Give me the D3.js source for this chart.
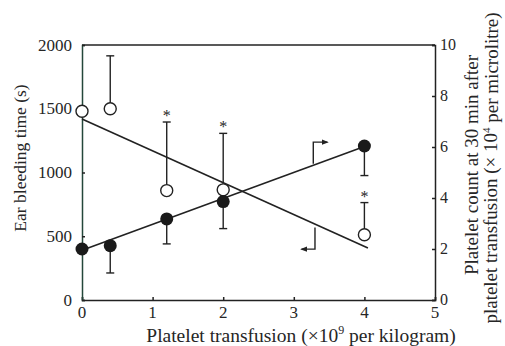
<!DOCTYPE html>
<html>
<head>
<meta charset="utf-8">
<script src="https://cdn.jsdelivr.net/npm/d3@7"></script>
<style>
  body { margin: 0; background: #fff; }
  svg text { font-family: "Liberation Serif", "DejaVu Serif", serif; fill: #262626; }
</style>
</head>
<body>
<script>
// transfusion doses (x 10^9 per kg)
var doses = [0, 0.4, 1.2, 2, 4];
// ear bleeding time (s), open circles, error bars go up
var bleeding = [1480, 1500, 858, 864, 512];
var bleedingErr = [0, 415, 538, 443, 252];
// platelet count (x 10^4 per microlitre), filled circles, error bars go down
var platelets = [2.0, 2.13, 3.18, 3.86, 6.04];
var plateletErr = [0, 1.07, 0.98, 1.06, 1.16];
// which doses get a significance star
var starred = [1.2, 2, 4];
// fitted lines, [dose, value]
var bleedingFit = [[0, 1420], [4.05, 408]];
var plateletFit = [[0, 1.95], [4, 6.02]];
// axis ticks
var xTicks = [0, 1, 2, 3, 4, 5];
var leftTicks = [0, 500, 1000, 1500, 2000];
var rightTicks = [0, 2, 4, 6, 8, 10];

var width = 505, height = 346;
var x = d3.scaleLinear().domain([0, 5]).range([82, 435]);
var yL = d3.scaleLinear().domain([0, 2000]).range([300, 45]);
var yR = d3.scaleLinear().domain([0, 10]).range([300, 45]);

var svg = d3.select("body").append("svg")
  .attr("width", width)
  .attr("height", height);

var ink = "#222";

// frame
svg.append("line")
  .attr("x1", x(0)).attr("x2", x(5)).attr("y1", yL(2000)).attr("y2", yL(2000))
  .attr("stroke", ink).attr("stroke-width", 1.5);

var xAxis = svg.append("g").attr("transform", "translate(0," + yL(0) + ")")
  .call(d3.axisTop(x).tickValues(xTicks).tickSize(3).tickFormat(""));
var lAxis = svg.append("g").attr("transform", "translate(" + x(0) + ",0)")
  .call(d3.axisRight(yL).tickValues(leftTicks).tickSize(3).tickFormat(""));
var rAxis = svg.append("g").attr("transform", "translate(" + x(5) + ",0)")
  .call(d3.axisLeft(yR).tickValues(rightTicks).tickSize(3).tickFormat(""));

[xAxis, lAxis, rAxis].forEach(function(g) {
  g.selectAll("path").attr("stroke", ink).attr("stroke-width", 1.5);
  g.selectAll("line").attr("stroke", ink).attr("stroke-width", 1.5);
});
lAxis.select("path").attr("stroke", "#24473b");

// tick labels
svg.selectAll(".xl").data(xTicks).enter().append("text")
  .attr("x", function(d) { return x(d); })
  .attr("y", 318)
  .attr("text-anchor", "middle")
  .attr("font-size", 17)
  .text(function(d) { return d; });

svg.selectAll(".ll").data(leftTicks).enter().append("text")
  .attr("x", 72)
  .attr("y", function(d) { return yL(d); })
  .attr("dy", "0.33em")
  .attr("text-anchor", "end")
  .attr("font-size", 17)
  .text(function(d) { return d; });

svg.selectAll(".rl").data(rightTicks).enter().append("text")
  .attr("x", 440)
  .attr("y", function(d) { return yR(d); })
  .attr("dy", "0.33em")
  .attr("font-size", 16)
  .text(function(d) { return d; });

// axis titles
svg.append("text")
  .attr("transform", "translate(20,158) rotate(-90)")
  .attr("dy", "0.33em")
  .attr("text-anchor", "middle")
  .attr("font-size", 17.5)
  .text("Ear bleeding time (s)");

svg.append("text")
  .attr("transform", "translate(472,165) rotate(-90)")
  .attr("dy", "0.33em")
  .attr("text-anchor", "middle")
  .attr("font-size", 19)
  .text("Platelet count at 30 min after");

var t2 = svg.append("text")
  .attr("transform", "translate(491,168) rotate(-90)")
  .attr("dy", "0.33em")
  .attr("text-anchor", "middle")
  .attr("font-size", 19);
t2.append("tspan").text("platelet transfusion (\u00d7 10");
t2.append("tspan").attr("font-size", 11).attr("dy", "-0.7em").text("4");
t2.append("tspan").attr("dy", "0.45em").text(" per microlitre)");

var xt = svg.append("text")
  .attr("x", 301).attr("y", 342)
  .attr("text-anchor", "middle")
  .attr("font-size", 19.5);
xt.append("tspan").text("Platelet transfusion (\u00d710");
xt.append("tspan").attr("font-size", 12).attr("dy", "-0.7em").text("9");
xt.append("tspan").attr("dy", "0.45em").text(" per kilogram)");

// fitted lines
var lineL = d3.line().x(function(d) { return x(d[0]); }).y(function(d) { return yL(d[1]); });
var lineR = d3.line().x(function(d) { return x(d[0]); }).y(function(d) { return yR(d[1]); });
svg.append("path").attr("d", lineL(bleedingFit)).attr("fill", "none")
  .attr("stroke", ink).attr("stroke-width", 1.6);
svg.append("path").attr("d", lineR(plateletFit)).attr("fill", "none")
  .attr("stroke", ink).attr("stroke-width", 1.6);

var bleedRows = doses.map(function(d, i) { return { x: d, v: bleeding[i], e: bleedingErr[i] }; });
var platRows = doses.map(function(d, i) { return { x: d, v: platelets[i], e: plateletErr[i] }; });

// error bars
var eb = svg.append("g").attr("stroke", ink).attr("stroke-width", 1.4);
bleedRows.filter(function(d) { return d.e > 0; }).forEach(function(d) {
  eb.append("line").attr("x1", x(d.x)).attr("x2", x(d.x))
    .attr("y1", yL(d.v)).attr("y2", yL(d.v + d.e));
  eb.append("line").attr("x1", x(d.x) - 4).attr("x2", x(d.x) + 4)
    .attr("y1", yL(d.v + d.e)).attr("y2", yL(d.v + d.e));
});
platRows.filter(function(d) { return d.e > 0; }).forEach(function(d) {
  eb.append("line").attr("x1", x(d.x)).attr("x2", x(d.x))
    .attr("y1", yR(d.v)).attr("y2", yR(d.v - d.e));
  eb.append("line").attr("x1", x(d.x) - 4).attr("x2", x(d.x) + 4)
    .attr("y1", yR(d.v - d.e)).attr("y2", yR(d.v - d.e));
});

// stars above the bleeding-time bars
svg.selectAll(".star").data(bleedRows.filter(function(d) { return starred.indexOf(d.x) >= 0; }))
  .enter().append("text")
  .attr("x", function(d) { return x(d.x); })
  .attr("y", function(d) { return yL(d.v + d.e) - 1; })
  .attr("text-anchor", "middle")
  .attr("font-size", 16)
  .text("*");

// points
svg.selectAll(".open").data(bleedRows).enter().append("circle")
  .attr("cx", function(d) { return x(d.x); })
  .attr("cy", function(d) { return yL(d.v); })
  .attr("r", 6)
  .attr("fill", "#fff").attr("stroke", ink).attr("stroke-width", 1.4);
svg.selectAll(".filled").data(platRows).enter().append("circle")
  .attr("cx", function(d) { return x(d.x); })
  .attr("cy", function(d) { return yR(d.v); })
  .attr("r", 6.5)
  .attr("fill", "#1a1a1a");

// arrows telling which line belongs to which axis
svg.append("defs").append("marker")
  .attr("id", "head").attr("viewBox", "0 0 10 10")
  .attr("refX", 8).attr("refY", 5)
  .attr("markerWidth", 5).attr("markerHeight", 5)
  .attr("orient", "auto")
  .append("path").attr("d", "M0,1 L10,5 L0,9 Z").attr("fill", ink);

svg.append("path")
  .attr("d", "M" + x(3.276) + "," + yR(5.34) + "V" + yR(6.19) + "H" + x(3.475))
  .attr("fill", "none").attr("stroke", ink).attr("stroke-width", 1.4)
  .attr("marker-end", "url(#head)");
svg.append("path")
  .attr("d", "M" + x(3.30) + "," + yL(569) + "V" + yL(399) + "H" + x(3.11))
  .attr("fill", "none").attr("stroke", ink).attr("stroke-width", 1.4)
  .attr("marker-end", "url(#head)");
</script>
</body>
</html>
